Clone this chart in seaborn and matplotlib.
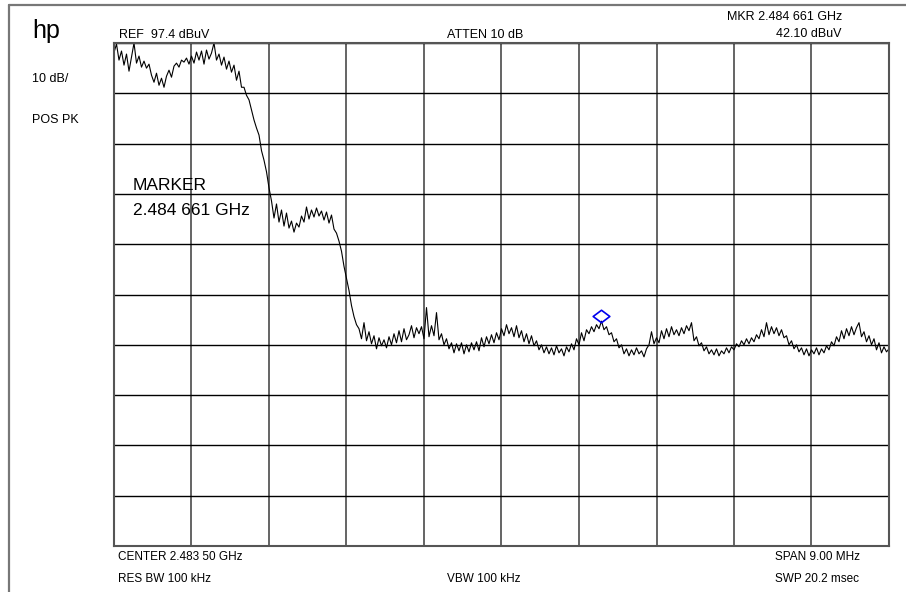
import numpy as np
import pandas as pd
import matplotlib.pyplot as plt
import seaborn as sns
from matplotlib.lines import Line2D
from matplotlib.path import Path
from matplotlib.transforms import ScaledTranslation

# analyzer settings
center_ghz = 2.4835
span_ghz = 0.009
ref_level = 97.4          # dBuV, top graticule line
db_per_div = 10
mkr_freq = 2.484661       # GHz
mkr_level = 42.10         # dBuV

# trace in dBuV, left to right
passband = [95.5, 97.2, 94.0, 95.8, 93.0, 95.2, 91.8, 94.6, 97.4, 93.4,
            94.8, 92.6, 93.8, 92.4, 93.2, 91.0, 89.6, 91.4, 89.0, 90.4,
            88.6, 90.8, 92.0, 90.6, 92.8, 93.4, 92.6, 94.0, 93.6, 94.4,
            93.2, 94.8, 93.4, 95.6, 94.0, 95.8, 93.2, 96.0, 94.2, 95.4,
            97.4, 94.0, 95.2, 93.0, 94.6, 92.2, 93.8, 91.6, 93.0, 90.0,
            91.8, 88.6, 88.6]
slope1 = [87.0, 86.1, 84.1, 82.1, 80.5, 79.1, 76.0, 74.1, 71.8, 68.6]
shelf = [66.0, 62.6, 65.4, 61.8, 64.2, 61.0, 63.6, 60.6, 62.0, 59.8,
         61.6, 60.8, 63.0, 61.8, 64.8, 62.4, 64.2, 62.8, 64.6, 63.0,
         64.0, 62.2, 63.8, 61.6, 63.2, 60.4]
slope2 = [59.6, 58.0, 56.0, 53.0, 50.6, 48.2, 45.2, 43.0, 41.4]
noise_floor = [
    40.6, 38.6, 41.8, 38.2, 40.0, 37.6, 39.2, 36.6, 38.8, 37.2,
    38.4, 36.8, 39.0, 37.4, 39.6, 37.8, 40.2, 38.0, 40.6, 38.4,
    39.4, 41.2, 38.8, 40.8, 39.6, 41.0, 38.6, 44.8, 39.0, 41.2,
    39.2, 43.8, 38.4, 39.6, 37.4, 38.6, 36.6, 37.8, 35.8, 37.6,
    36.2, 37.8, 35.6, 37.4, 36.0, 37.8, 36.4, 38.0, 36.2, 38.8,
    37.0, 39.0, 37.6, 39.4, 37.8, 39.8, 38.4, 40.6, 39.2, 41.4,
    39.6, 40.8, 39.0, 41.2, 38.8, 40.2, 38.0, 39.6, 37.6, 39.2,
    37.2, 38.2, 36.4, 37.4, 35.8, 37.0, 35.6, 36.8, 35.4, 37.2,
    35.8, 36.6, 35.2, 37.0, 36.0, 37.6, 36.4, 38.6, 37.4, 39.8,
    38.2, 40.4, 39.6, 41.0, 40.0, 41.4, 40.6, 42.1, 40.4, 41.0,
    39.4, 39.8, 38.0, 38.6, 36.8, 37.4, 35.6, 36.6, 35.2, 36.4,
    35.4, 36.8, 35.6, 36.2, 35.0, 36.6, 37.4, 40.0, 37.6, 38.8,
    37.8, 40.2, 38.6, 40.6, 39.0, 41.0, 39.4, 40.4, 39.2, 40.8,
    39.6, 41.2, 40.2, 41.8, 38.2, 39.0, 37.2, 37.8, 36.2, 37.0,
    35.6, 36.4, 35.4, 36.6, 35.2, 36.2, 35.6, 36.8, 35.8, 37.0,
    36.4, 37.6, 37.0, 38.2, 37.4, 38.6, 37.6, 38.8, 38.0, 39.4,
    38.6, 40.4, 39.0, 41.8, 39.4, 41.0, 39.6, 40.8, 39.2, 40.4,
    38.8, 39.2, 37.4, 38.2, 36.6, 37.4, 36.0, 36.8, 35.4, 36.6,
    35.2, 36.4, 35.6, 36.8, 35.4, 36.6, 35.8, 37.2, 36.4, 38.0,
    37.2, 39.0, 38.0, 40.2, 38.6, 40.6, 39.2, 41.0, 39.4, 40.8,
    41.8, 39.0, 40.0, 38.0, 39.2, 37.4, 38.6, 36.4, 37.8, 35.8,
    37.0, 36.0, 36.6]

levels = passband + slope1 + shelf + slope2 + noise_floor
start = center_ghz - span_ghz / 2
stop = center_ghz + span_ghz / 2
freqs = np.linspace(start, stop, len(levels))   # sweep points across the span
df = pd.DataFrame({'freq': freqs, 'level': levels})

sns.set_style('white')
plt.rcParams['font.family'] = ['Liberation Sans', 'DejaVu Sans']
plt.rcParams['text.color'] = 'black'

W, H = 906, 592
fig = plt.figure(figsize=(W / 100, H / 100), dpi=100)
ax = fig.add_axes([114 / W, 1 - 546 / H, 775 / W, 503 / H])

sns.lineplot(data=df, x='freq', y='level', ax=ax, color='black', lw=0.8)

# graticule: 10 x 10 divisions
bottom = ref_level - 10 * db_per_div
ax.set_xlim(start, stop)
ax.set_ylim(bottom, ref_level)
ax.set_xticks(np.linspace(start, stop, 11))
ax.set_yticks(np.linspace(bottom, ref_level, 11))
ax.xaxis.grid(True, color='#3a3a3a', lw=1.1)
ax.yaxis.grid(True, color='#000000', lw=1.0)
ax.tick_params(length=0, labelbottom=False, labelleft=False)
ax.set_xlabel('')
ax.set_ylabel('')
for s in ax.spines.values():
    s.set_color('#555555')
    s.set_linewidth(1.5)

# marker diamond, sits a little above the trace
diamond = Path([(-1, 0), (0, 0.75), (1, 0), (0, -0.75), (-1, 0)],
               [Path.MOVETO, Path.LINETO, Path.LINETO, Path.LINETO, Path.CLOSEPOLY])
off = ax.transData + ScaledTranslation(0, 4 / 72, fig.dpi_scale_trans)
ax.plot([mkr_freq], [mkr_level], marker=diamond, ms=12, mfc='none',
        mec='#0000ee', mew=1.2, ls='none', transform=off, clip_on=False)


def px(x, y):
    return x / W, 1 - y / H


# screen border
fig.add_artist(Line2D([9 / W, 1], [1 - 5 / H] * 2, color='#777777', lw=1.6))
fig.add_artist(Line2D([9 / W] * 2, [0, 1 - 5 / H], color='#777777', lw=1.6))

fig.text(*px(32, 38), 'hp', fontsize=18, va='baseline')
fig.text(*px(32, 82), '10 dB/', fontsize=9, va='baseline')
fig.text(*px(32, 123), 'POS PK', fontsize=9, va='baseline')
fig.text(*px(119, 38), 'REF  97.4 dBuV', fontsize=9, va='baseline')
fig.text(*px(447, 38), 'ATTEN 10 dB', fontsize=9, va='baseline')
fig.text(*px(842, 20), 'MKR 2.484 661 GHz', fontsize=9, va='baseline', ha='right')
fig.text(*px(841, 37), '42.10 dBuV', fontsize=9, va='baseline', ha='right')
fig.text(*px(133, 190), 'MARKER', fontsize=12.5, va='baseline')
fig.text(*px(133, 215), '2.484 661 GHz', fontsize=12.5, va='baseline')
fig.text(*px(118, 560), 'CENTER 2.483 50 GHz', fontsize=8.5, va='baseline')
fig.text(*px(775, 560), 'SPAN 9.00 MHz', fontsize=8.5, va='baseline')
fig.text(*px(118, 582), 'RES BW 100 kHz', fontsize=8.5, va='baseline')
fig.text(*px(447, 582), 'VBW 100 kHz', fontsize=8.5, va='baseline')
fig.text(*px(775, 582), 'SWP 20.2 msec', fontsize=8.5, va='baseline')

fig.savefig('out.png', dpi=100, facecolor='white')
